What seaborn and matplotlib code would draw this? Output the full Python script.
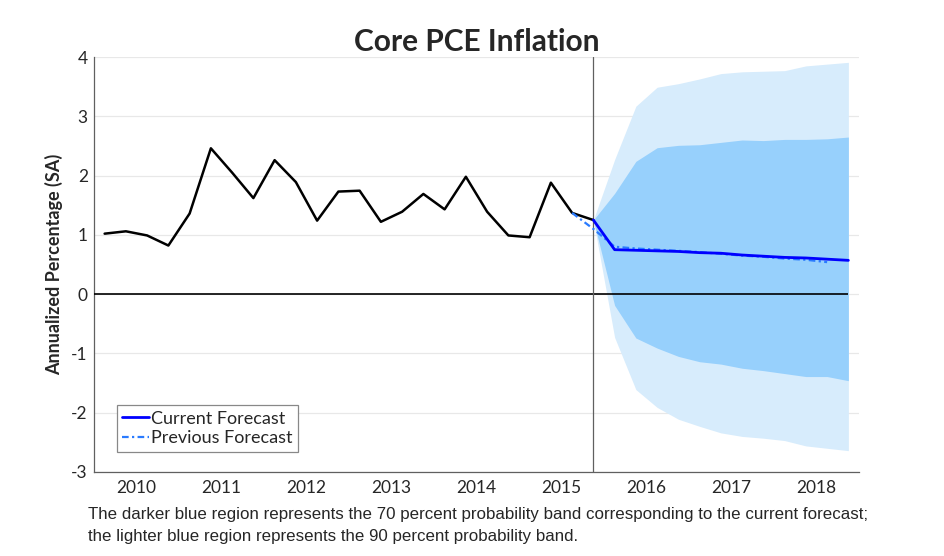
import matplotlib
matplotlib.use('Agg')
import matplotlib.pyplot as plt
import seaborn as sns
import numpy as np
import pandas as pd

# ------------------------------------------------------------
# Data (quarterly)
# ------------------------------------------------------------
years = [2010, 2011, 2012, 2013, 2014, 2015, 2016, 2017, 2018]

# 2010Q1 - 2015Q4
history = [1.02, 1.06, 0.99, 0.82, 1.36, 2.46, 2.05, 1.62,
           2.26, 1.89, 1.24, 1.73, 1.745, 1.22, 1.39, 1.69,
           1.43, 1.98, 1.39, 0.99, 0.96, 1.88, 1.37, 1.25]

# 2015Q4 - 2018Q4
current_fc = [1.25, 0.75, 0.74, 0.73, 0.72, 0.70, 0.69, 0.66,
              0.64, 0.62, 0.61, 0.59, 0.57]
# 2015Q3 - 2018Q3
previous_fc = [1.37, 1.10, 0.80, 0.77, 0.75, 0.73, 0.71, 0.68,
               0.65, 0.63, 0.60, 0.58, 0.54]

# probability bands, 2015Q4 - 2018Q4
band90_hi = [1.25, 2.27, 3.17, 3.49, 3.55, 3.63, 3.72, 3.75, 3.76, 3.77, 3.85, 3.88, 3.91]
band70_hi = [1.25, 1.70, 2.24, 2.47, 2.51, 2.52, 2.56, 2.60, 2.59, 2.61, 2.61, 2.62, 2.65]
band70_lo = [1.25, -0.19, -0.74, -0.91, -1.05, -1.14, -1.18, -1.25, -1.29, -1.34, -1.39, -1.39, -1.46]
band90_lo = [1.25, -0.73, -1.61, -1.91, -2.11, -2.23, -2.34, -2.40, -2.43, -2.47, -2.56, -2.60, -2.64]

# quarter index: 0 = 2010Q1
q_hist = np.arange(len(history))
start_fc = len(history) - 1
q_fc = np.arange(start_fc, start_fc + len(current_fc))
q_prev = np.arange(start_fc - 1, start_fc - 1 + len(previous_fc))

hist_df = pd.DataFrame({'q': q_hist, 'value': history})
cur_df = pd.DataFrame({'q': q_fc, 'value': current_fc})
prev_df = pd.DataFrame({'q': q_prev, 'value': previous_fc})

# ------------------------------------------------------------
# Style
# ------------------------------------------------------------
sns.set_style("white")
plt.rcParams['font.family'] = ['Lato', 'DejaVu Sans']
plt.rcParams['axes.unicode_minus'] = False

fig = plt.figure(figsize=(9.44, 5.56), dpi=100)
ax = fig.add_axes([94 / 944, 84 / 556, 765 / 944, 415 / 556])

x_lo, x_hi = -0.5, q_fc[-1] + 0.5
ax.set_xlim(x_lo, x_hi)
ax.set_ylim(-3, 4)

# grid
for yv in range(-3, 5):
    ax.axhline(yv, color='#e8e8e8', lw=0.9, zorder=0)

# bands
ax.fill_between(q_fc, band90_lo, band90_hi, color='#d7ecfc', lw=0, zorder=1)
ax.fill_between(q_fc, band70_lo, band70_hi, color='#97d0fc', lw=0, zorder=2)

# zero line and forecast start marker
ax.hlines(0, x_lo, q_fc[-1], color='black', lw=1.2, zorder=3)
ax.axvline(start_fc, color='#606060', lw=0.9, zorder=3)

# lines
sns.lineplot(data=hist_df, x='q', y='value', color='black', lw=1.8, ax=ax, zorder=5)
sns.lineplot(data=prev_df, x='q', y='value', color='#2a7bff', lw=1.6,
             linestyle=(0, (3, 1.5, 1, 1.5)), ax=ax, zorder=6, label='Previous Forecast')
sns.lineplot(data=cur_df, x='q', y='value', color='#0000ff', lw=2.0, ax=ax,
             zorder=7, label='Current Forecast')

# axes cosmetics
for side in ['top', 'right']:
    ax.spines[side].set_visible(False)
for side in ['left', 'bottom']:
    ax.spines[side].set_color('#606060')
    ax.spines[side].set_linewidth(0.9)

ax.set_yticks(range(-3, 5))
ax.tick_params(axis='y', direction='in', length=7, width=0.9, color='#606060',
               labelsize=12.5, pad=4.5)

year_edges = np.arange(3.5, q_fc[-1], 4)
quarter_edges = np.arange(0.5, x_hi + 0.01, 1)
ax.set_xticks(year_edges)
ax.set_xticklabels([])
ax.set_xticks(quarter_edges, minor=True)
ax.tick_params(axis='x', which='major', direction='in', length=6, width=0.9, color='#606060')
ax.tick_params(axis='x', which='minor', direction='in', length=3, width=0.9, color='#606060')

for i, yr in enumerate(years):
    ax.text(1.5 + 4 * i, -0.038, str(yr), transform=ax.get_xaxis_transform(),
            ha='center', va='center', fontsize=12.5)

ax.set_xlabel('')
ax.set_ylabel('Annualized Percentage (SA)', fontsize=13, fontweight='bold')
ax.yaxis.set_label_coords(-0.041, 0.5)

ax.set_title('Core PCE Inflation', fontsize=21.5, fontweight='bold', pad=4)

handles, labels = ax.get_legend_handles_labels()
order = [labels.index('Current Forecast'), labels.index('Previous Forecast')]
leg = ax.legend([handles[i] for i in order], [labels[i] for i in order],
                loc='upper left', bbox_to_anchor=(0.030, 0.161), borderaxespad=0,
                fontsize=13, frameon=True, fancybox=False, framealpha=1,
                edgecolor='#888888', handlelength=1.5, handletextpad=0.1,
                labelspacing=0.2, borderpad=0.3)
leg.get_frame().set_linewidth(0.9)

cap_font = ['Liberation Sans', 'DejaVu Sans']
fig.text(88 / 944, 1 - 514 / 556,
         'The darker blue region represents the 70 percent probability band corresponding to the current forecast;',
         fontsize=12.2, family=cap_font, va='center', ha='left')
fig.text(88 / 944, 1 - 537 / 556,
         'the lighter blue region represents the 90 percent probability band.',
         fontsize=12.2, family=cap_font, va='center', ha='left')

fig.savefig('out.png', dpi=100)
